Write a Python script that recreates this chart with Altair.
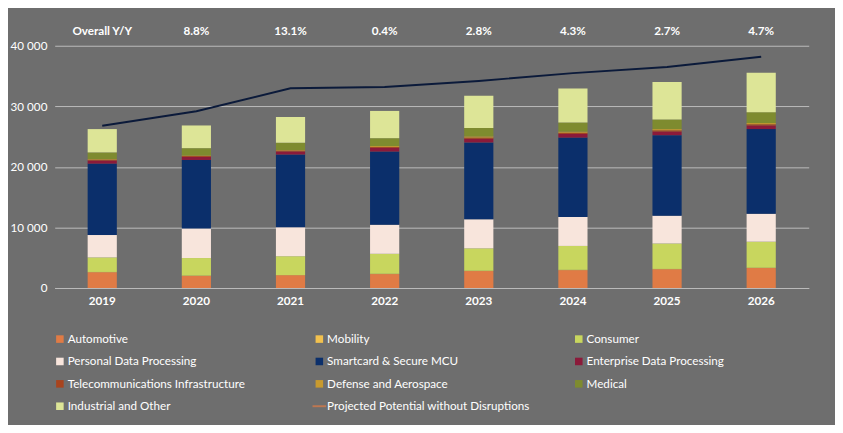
import altair as alt
import pandas as pd

years = ["2019", "2020", "2021", "2022", "2023", "2024", "2025", "2026"]
segments = ["Automotive", "Mobility", "Consumer", "Personal Data Processing",
            "Smartcard & Secure MCU", "Enterprise Data Processing",
            "Telecommunications Infrastructure", "Defense and Aerospace",
            "Medical", "Industrial and Other"]
colors = ["#E07B45", "#F2C14E", "#C8D65E", "#F8E5DC", "#0B2F6B",
          "#8B1A3A", "#A8441E", "#C89A2E", "#7E8B2F", "#DDE597"]

automotive = [2600, 2000, 2100, 2300, 2800, 2950, 3100, 3300]
mobility = [50, 50, 50, 50, 50, 50, 50, 50]
consumer = [2400, 2900, 3100, 3300, 3700, 3950, 4200, 4300]
personal = [3700, 4900, 4800, 4800, 4800, 4800, 4600, 4600]
smartcard = [11800, 11300, 12000, 12100, 12700, 13100, 13300, 14000]
enterprise = [500, 500, 500, 600, 600, 600, 600, 600]
telecom = [150, 150, 150, 150, 200, 200, 200, 200]
defense = [100, 100, 100, 150, 200, 200, 200, 200]
medical = [1100, 1200, 1200, 1300, 1400, 1500, 1600, 1800]
industrial = [3850, 3750, 4250, 4500, 5300, 5600, 6200, 6500]
projected = [26800, 29200, 33000, 33200, 34200, 35500, 36500, 38200]
yoy_labels = ["Overall Y/Y", "8.8%", "13.1%", "0.4%", "2.8%", "4.3%", "2.7%", "4.7%"]

series = [automotive, mobility, consumer, personal, smartcard, enterprise,
          telecom, defense, medical, industrial]
rows = []
for si, (name, vals) in enumerate(zip(segments, series)):
    for y, v in zip(years, vals):
        rows.append({"Year": y, "Segment": name, "Value": v, "order": si})
bars_df = pd.DataFrame(rows)
line_df = pd.DataFrame({"Year": years, "Value": projected})
yoy_df = pd.DataFrame({"Year": years, "Label": yoy_labels, "Value": [42500] * 8})

FONT = "Lato"
x_enc = alt.X("Year:N", title=None, scale=alt.Scale(paddingInner=0.69, paddingOuter=0.35),
              axis=alt.Axis(labelAngle=0, labelColor="white", labelFontWeight="bold",
                            labelFontSize=12, labelPadding=8, ticks=False,
                            domainColor="#BBBBBB", labelFont=FONT))

bars = alt.Chart(bars_df).mark_bar().encode(
    x=x_enc,
    y=alt.Y("Value:Q", title=None, scale=alt.Scale(domain=[0, 45000], nice=False),
            axis=alt.Axis(values=list(range(0, 45001, 5000)), gridColor="#BDBDBD",
                          domain=False, ticks=False, labelColor="white",
                          labelFontSize=12, labelFont=FONT, labelPadding=8,
                          labelOverlap=False, labelFlush=False,
                          labelExpr="replace(format(datum.value, ','), ',', ' ')")),
    color=alt.Color("Segment:N", scale=alt.Scale(domain=segments, range=colors), legend=None),
    order=alt.Order("order:Q"),
)

line = alt.Chart(line_df).mark_line(color="#0B1A3A", strokeWidth=2).encode(
    x="Year:N", y="Value:Q")

yoy = alt.Chart(yoy_df).mark_text(color="white", fontWeight="bold", fontSize=12, font=FONT).encode(
    x="Year:N", y="Value:Q", text="Label:N")

main = alt.layer(bars, line, yoy).properties(width=775, height=280)

legend_names = segments + ["Projected Potential without Disruptions"]
legend_colors = colors + ["#0B1A3A"]
leg_df = pd.DataFrame({
    "name": legend_names,
    "col": [i % 3 for i in range(len(legend_names))],
    "row": [i // 3 for i in range(len(legend_names))],
    "kind": ["bar"] * 10 + ["line"],
})
lx = alt.X("col:O", axis=None, scale=alt.Scale(paddingInner=0, paddingOuter=0, align=0))
ly = alt.Y("row:O", axis=None, scale=alt.Scale(paddingInner=0, paddingOuter=0))
lcol = alt.Color("name:N", scale=alt.Scale(domain=legend_names, range=legend_colors), legend=None)

sq = alt.Chart(leg_df).transform_filter("datum.kind == 'bar'").mark_square(
    size=60, opacity=1, xOffset=-128).encode(x=lx, y=ly, color=lcol)
ln = alt.Chart(leg_df).transform_filter("datum.kind == 'line'").mark_tick(
    orient="horizontal", size=14, thickness=2, xOffset=-128, angle=90).encode(x=lx, y=ly, color=lcol)
txt = alt.Chart(leg_df).mark_text(align="left", color="white", fontSize=12, font=FONT,
                                  dx=-120).encode(x=lx, y=ly, text="name:N")
legend = alt.layer(sq, ln, txt).properties(width=800, height=92)

chart = alt.vconcat(main, legend, spacing=22).properties(
    padding={"left": 2, "top": 2, "right": 2, "bottom": 2}
).configure(
    background="#6E6E6E"
).configure_view(stroke=None)

chart.save("out.html", embed_options={"renderer": "svg", "actions": False})
